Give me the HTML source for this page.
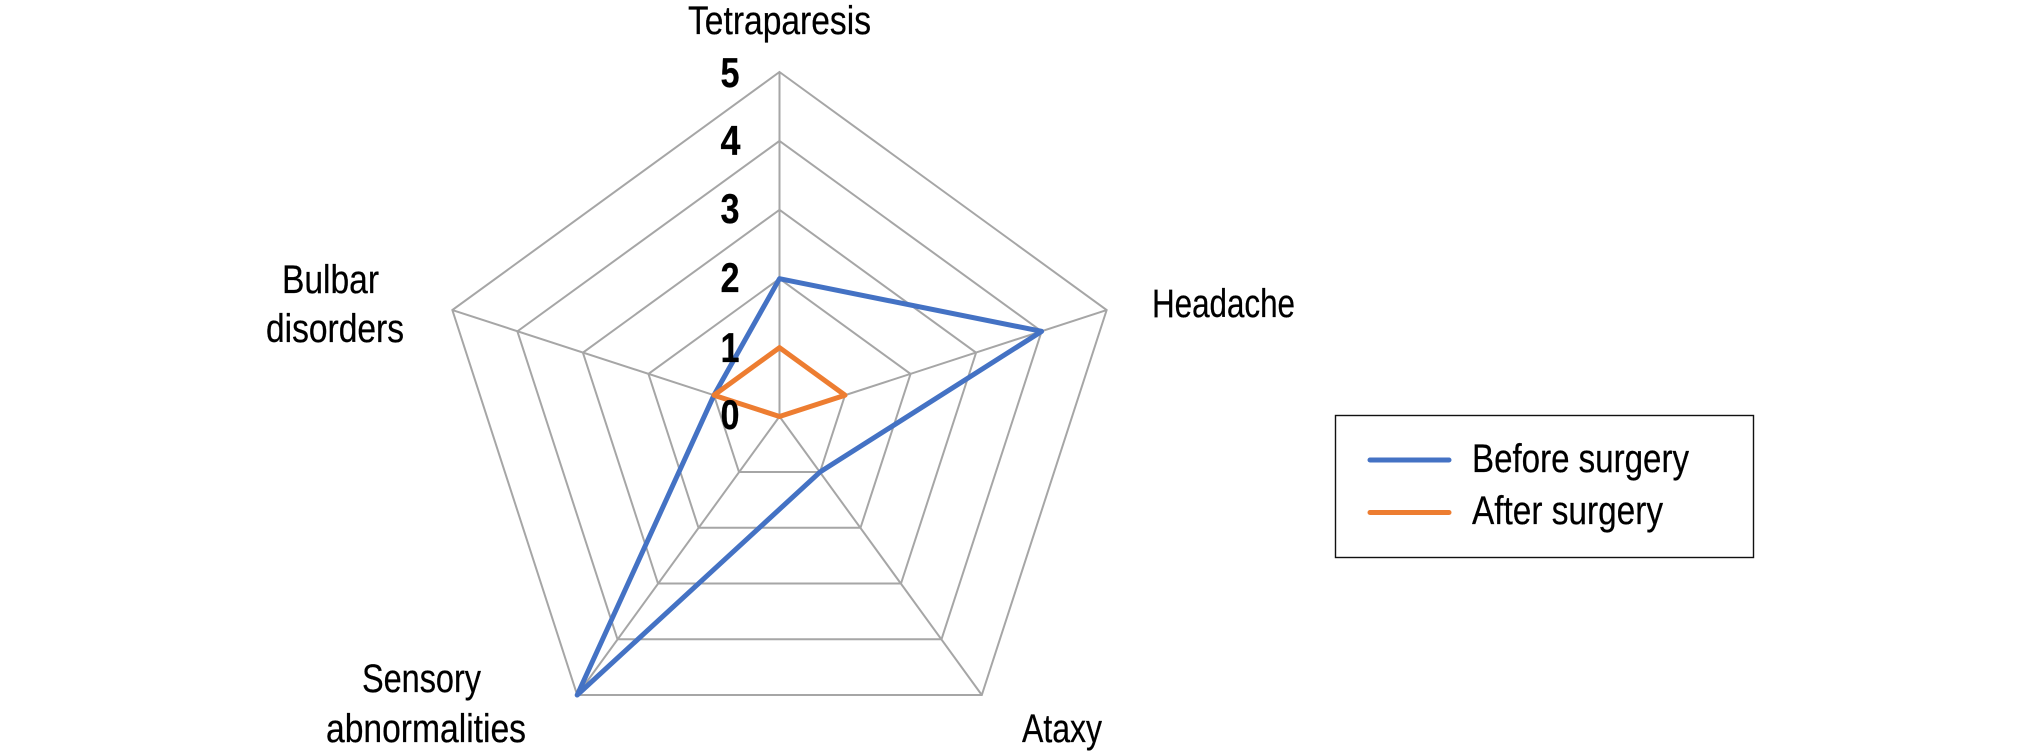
<!DOCTYPE html>
<html>
<head>
<meta charset="utf-8">
<style>
html,body{margin:0;padding:0;background:#fff;}
svg{display:block;}
text{font-family:"Liberation Sans",sans-serif;font-size:40px;fill:#000;stroke:#000;stroke-width:.25px;}
.n{font-weight:bold;font-size:42px;}
</style>
</head>
<body>
<svg width="2020" height="753" viewBox="0 0 2020 753" xmlns="http://www.w3.org/2000/svg">
<rect width="2020" height="753" fill="#fff"/>
<g fill="none" stroke="#a6a6a6" stroke-width="2" stroke-linejoin="miter">
<polygon points="779.5,347.6 845.03,395.21 820,472.04 739,472.04 713.97,395.21"/>
<polygon points="779.5,278.7 910.56,373.92 860.5,527.78 698.5,527.78 648.44,373.92"/>
<polygon points="779.5,209.8 976.09,352.63 901,583.52 658,583.52 582.91,352.63"/>
<polygon points="779.5,140.9 1041.62,331.34 941.5,639.26 617.5,639.26 517.38,331.34"/>
<polygon points="779.5,72 1106.65,310.05 981.8,695 577.2,695 452.35,310.05"/>
<line x1="779.5" y1="416.5" x2="779.5" y2="72"/>
<line x1="779.5" y1="416.5" x2="1106.65" y2="310.05"/>
<line x1="779.5" y1="416.5" x2="981.8" y2="695"/>
<line x1="779.5" y1="416.5" x2="577.2" y2="695"/>
<line x1="779.5" y1="416.5" x2="452.35" y2="310.05"/>
</g>
<polygon points="779.5,278.7 1041.62,331.34 820,472.04 577.2,695 713.97,395.21" fill="none" stroke="#4472c4" stroke-width="5" stroke-linejoin="round"/>
<polygon points="779.5,347.6 845.03,395.21 779.5,416.5 713.97,395.21" fill="none" stroke="#ed7d31" stroke-width="5" stroke-linejoin="round"/>
<g class="nums">
<text class="n" x="720.5" y="87" textLength="19" lengthAdjust="spacingAndGlyphs">5</text>
<text class="n" x="720.5" y="155" textLength="20" lengthAdjust="spacingAndGlyphs">4</text>
<text class="n" x="720.5" y="223" textLength="19" lengthAdjust="spacingAndGlyphs">3</text>
<text class="n" x="720.5" y="292" textLength="19" lengthAdjust="spacingAndGlyphs">2</text>
<text class="n" x="720.5" y="362" textLength="19" lengthAdjust="spacingAndGlyphs">1</text>
<text class="n" x="720.5" y="429" textLength="19" lengthAdjust="spacingAndGlyphs">0</text>
</g>
<text x="688" y="34" textLength="183" lengthAdjust="spacingAndGlyphs">Tetraparesis</text>
<text x="1152" y="317" textLength="143" lengthAdjust="spacingAndGlyphs">Headache</text>
<text x="282" y="293" textLength="97" lengthAdjust="spacingAndGlyphs">Bulbar</text>
<text x="266" y="342" textLength="138" lengthAdjust="spacingAndGlyphs">disorders</text>
<text x="362" y="692" textLength="119" lengthAdjust="spacingAndGlyphs">Sensory</text>
<text x="326" y="742" textLength="200" lengthAdjust="spacingAndGlyphs">abnormalities</text>
<text x="1022" y="742" textLength="80" lengthAdjust="spacingAndGlyphs">Ataxy</text>
<rect x="1335.5" y="415.5" width="418" height="142" fill="none" stroke="#111" stroke-width="1.4"/>
<line x1="1370" y1="460" x2="1449" y2="460" stroke="#4472c4" stroke-width="5" stroke-linecap="round"/>
<line x1="1370" y1="512.5" x2="1449" y2="512.5" stroke="#ed7d31" stroke-width="5" stroke-linecap="round"/>
<text x="1472" y="472" textLength="217" lengthAdjust="spacingAndGlyphs">Before surgery</text>
<text x="1472" y="524" textLength="191" lengthAdjust="spacingAndGlyphs">After surgery</text>
</svg>
</body>
</html>
